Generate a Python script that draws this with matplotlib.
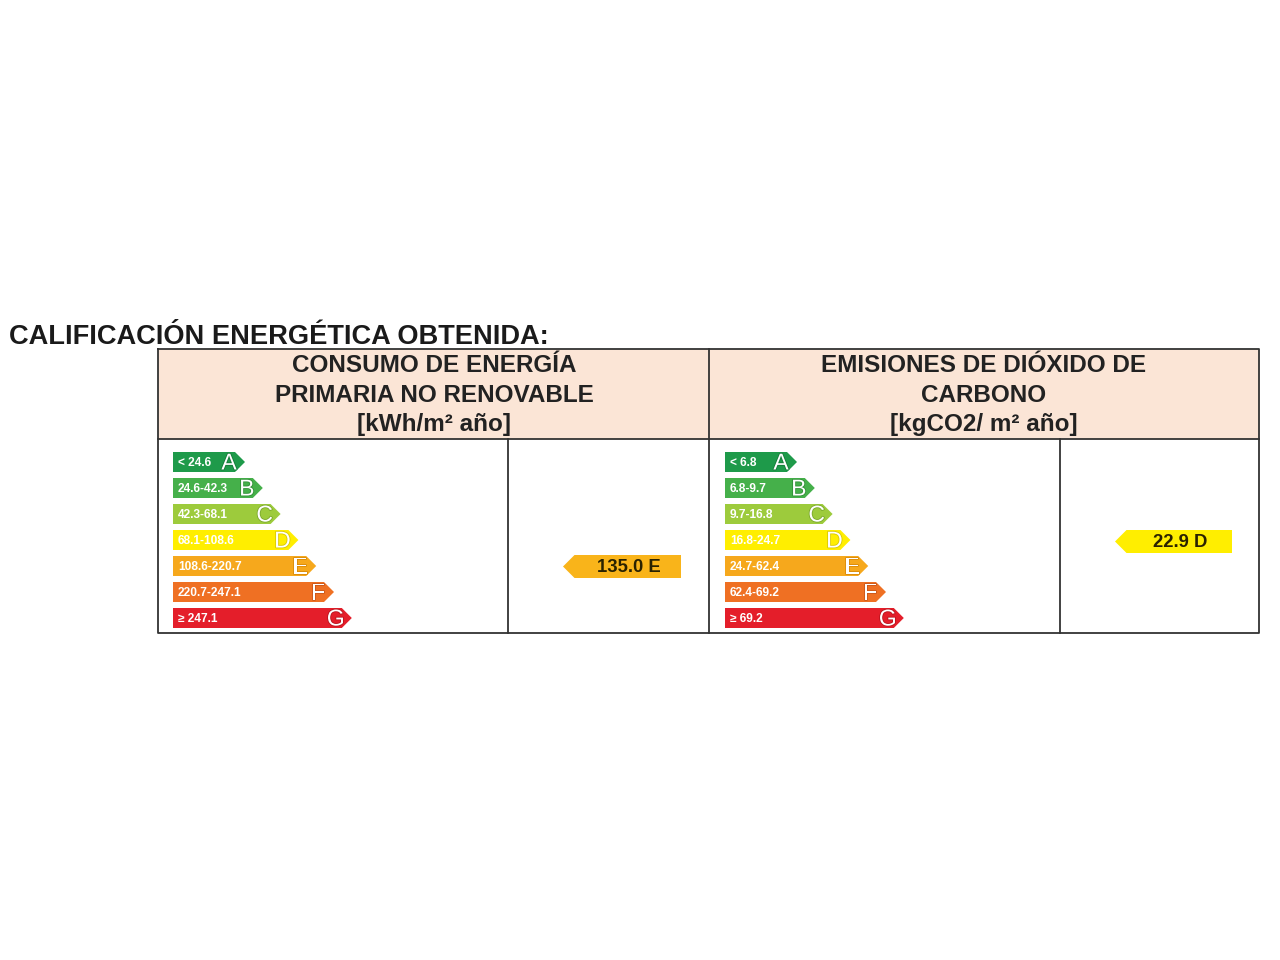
import matplotlib.pyplot as plt
from matplotlib.patches import Polygon, Rectangle
import matplotlib.patheffects as pe

plt.rcParams['font.family'] = ['Liberation Sans', 'DejaVu Sans']

# ---------------------------------- data
grades = ['A', 'B', 'C', 'D', 'E', 'F', 'G']
colors = ['#1e9a4a', '#45b04a', '#9dcb3c', '#ffee00', '#f6a81c', '#ef7023', '#e41e2a']
edge_cols = ['#147a38', '#2f8f36', '#7aa82a', '#d9c800', '#d98a0a', '#c9561a', '#b8141d']
energy_ranges = ['< 24.6', '24.6-42.3', '42.3-68.1', '68.1-108.6', '108.6-220.7', '220.7-247.1', '≥ 247.1']
co2_ranges = ['< 6.8', '6.8-9.7', '9.7-16.8', '16.8-24.7', '24.7-62.4', '62.4-69.2', '≥ 69.2']
energy_value = 135.0
energy_grade = 'E'
co2_value = 22.9
co2_grade = 'D'

title = 'CALIFICACIÓN ENERGÉTICA OBTENIDA:'
head_left = ['CONSUMO DE ENERGÍA', 'PRIMARIA NO RENOVABLE', '[kWh/m² año]']
head_right = ['EMISIONES DE DIÓXIDO DE', 'CARBONO', '[kgCO2/ m² año]']

fig = plt.figure(figsize=(12.8, 9.6), dpi=100)
ax = fig.add_axes([0, 0, 1, 1])
ax.set_xlim(0, 1280)
ax.set_ylim(960, 0)
ax.axis('off')

# title
ax.text(9, 344, title, fontsize=19.6, fontweight='bold', color='#1a1a1a', ha='left', va='baseline')

# table
tx0, tx1, ty0, ty1, ymid = 158, 1259, 349, 633, 439
ax.add_patch(Rectangle((tx0, ty0), tx1 - tx0, ymid - ty0, facecolor='#fbe5d6', edgecolor='none'))
lw = 1.3
ax.plot([tx0, tx1, tx1, tx0, tx0], [ty0, ty0, ty1, ty1, ty0], color='#333333', lw=lw)
ax.plot([tx0, tx1], [ymid, ymid], color='#333333', lw=lw)
for xv in [709]:
    ax.plot([xv, xv], [ty0, ty1], color='#333333', lw=lw)
for xv in [508, 1060]:
    ax.plot([xv, xv], [ymid, ty1], color='#333333', lw=lw)

for lines, xc in [(head_left, 434), (head_right, 984)]:
    for k, s in enumerate(lines):
        ax.text(xc, 366 + 29.5 * k, s, fontsize=17.5, fontweight='bold', color='#222222',
                ha='center', va='center')


def scale(ax, x0, ranges):
    h = 20
    for i, g in enumerate(grades):
        yc = 462 + 26 * i
        tip = x0 + 72 + 17.8 * i
        body = tip - h / 2
        pts = [(x0, yc - h / 2), (body, yc - h / 2), (tip, yc), (body, yc + h / 2), (x0, yc + h / 2)]
        ax.add_patch(Polygon(pts, closed=True, facecolor=colors[i], edgecolor='none'))
        ax.text(x0 + 5, yc + 0.5, ranges[i], fontsize=8.6, fontweight='bold', color='white',
                ha='left', va='center')
        t = ax.text(body - 6, yc + 1, g, fontsize=16.5, color='white', ha='center', va='center')
        t.set_path_effects([pe.withStroke(linewidth=1.2, foreground=edge_cols[i])])


def indicator(ax, tip, x1, yc, value, grade):
    h = 23
    pts = [(tip, yc), (tip + h / 2, yc - h / 2), (x1, yc - h / 2), (x1, yc + h / 2), (tip + h / 2, yc + h / 2)]
    fc = '#f9b41a' if grade == 'E' else '#ffee00'
    ax.add_patch(Polygon(pts, closed=True, facecolor=fc, edgecolor='none'))
    ax.text((tip + h / 2 + x1) / 2 + 1, yc + 1, f'{value:.1f} {grade}', fontsize=13.3,
            fontweight='bold', color='#2a2200', ha='center', va='center')


scale(ax, 173, energy_ranges)
scale(ax, 725, co2_ranges)
indicator(ax, 563, 681, 462 + 26 * grades.index(energy_grade) + 0.5, energy_value, energy_grade)
indicator(ax, 1115, 1232, 462 + 26 * grades.index(co2_grade) + 1.5, co2_value, co2_grade)

fig.savefig('out.png', dpi=100, facecolor='white')
